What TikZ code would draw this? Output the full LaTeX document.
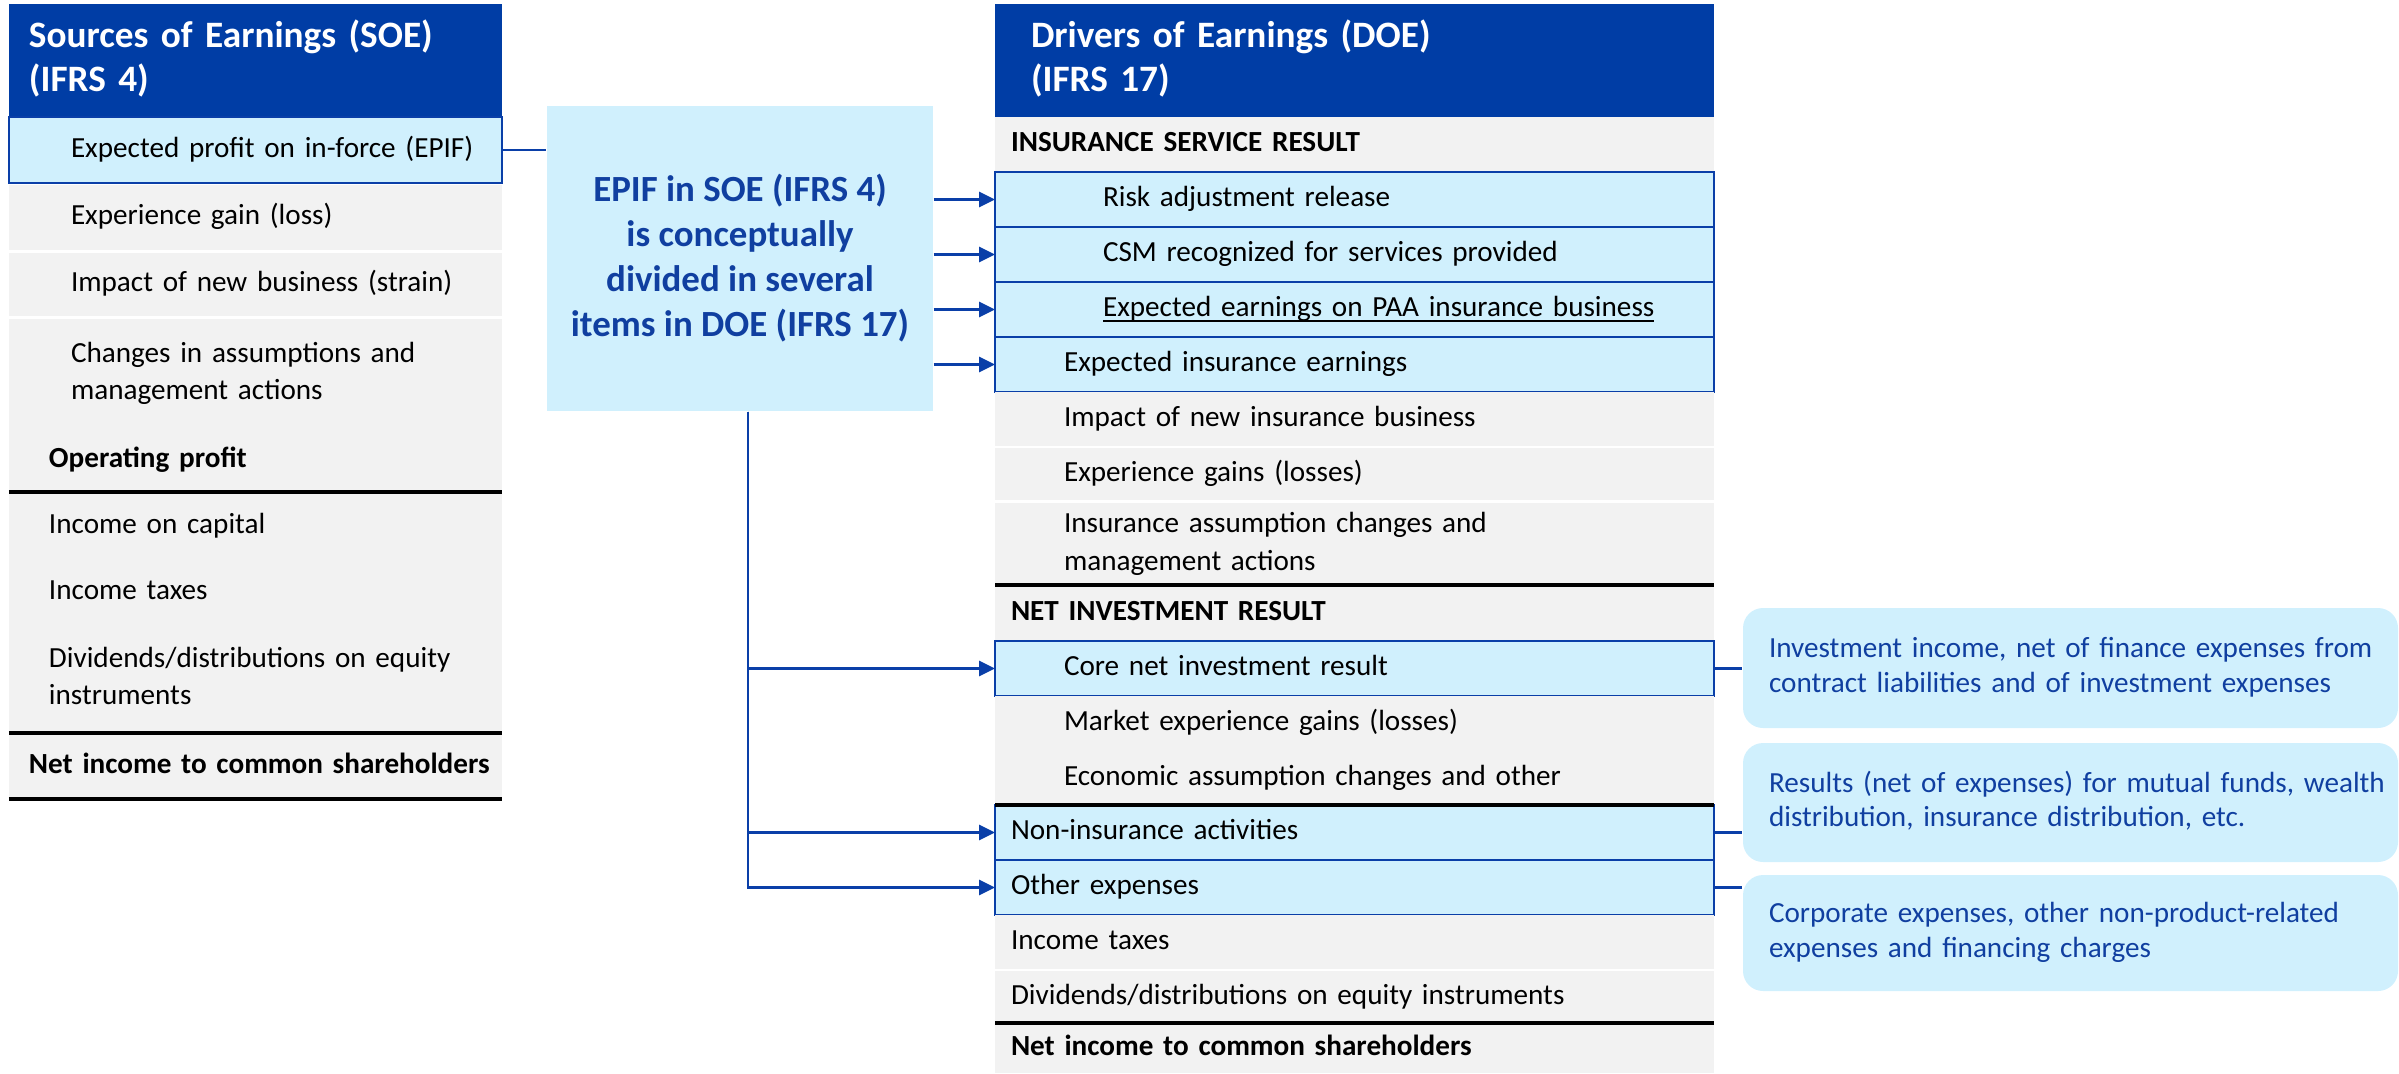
\documentclass[tikz,border=0pt]{standalone}
\usepackage{fontspec}
\setmainfont{Carlito}
\usetikzlibrary{arrows.meta, positioning, calc}

\definecolor{hdrblue}{HTML}{003DA5}
\definecolor{hilite}{HTML}{D0F0FD}
\definecolor{rowgray}{HTML}{F2F2F2}
\definecolor{linkblue}{HTML}{0A3FA8}
\definecolor{notetext}{HTML}{103FA0}

\newcommand\rowfont{\fontsize{8.3}{10.6}\selectfont}
\newcommand\hdrfont{\fontsize{10.6}{12.4}\selectfont\bfseries}
\newcommand\midfont{\fontsize{10.5}{12.8}\selectfont\bfseries}
\newcommand\notefont{\fontsize{8.3}{9.8}\selectfont}
\newcommand\undr[1]{\setbox0\hbox{#1}\rlap{\rule[-1.3pt]{\wd0}{0.45pt}}\box0}

\begin{document}
\begin{tikzpicture}[
    node distance=0pt,
    soerow/.style={rectangle, fill=rowgray, minimum width=4.93cm, text width=4.93cm, inner xsep=0pt, inner ysep=0pt, outer sep=0pt, align=left, font=\rowfont, execute at begin node={\leftskip=#1\relax\strut}, execute at end node=\strut},
    doerow/.style={soerow=#1, minimum width=7.19cm, text width=7.19cm},
    hdr/.style={fill=hdrblue, text=white, font=\hdrfont, minimum height=1.13cm},
    hot/.style={fill=hilite, draw=linkblue, line width=0.6pt},
    sect/.style={font=\rowfont\bfseries},
    rule/.style={line width=1.1pt},
    link/.style={draw=linkblue, line width=0.8pt},
    arrow/.style={link, -{Triangle[length=0.16cm, width=0.15cm]}},
    midbox/.style={rectangle, fill=hilite, text=notetext, font=\midfont, minimum width=3.86cm, minimum height=3.05cm, align=center},
    note/.style={rectangle, rounded corners=0.2cm, fill=hilite, text=notetext, font=\notefont, minimum width=6.55cm, text width=6.55cm, inner xsep=0pt, align=left, execute at begin node={\leftskip=0.26cm\relax\strut}, execute at end node=\strut}
]
\useasboundingbox (0,0) rectangle (23.99,-10.73);

% SOE (IFRS 4)
\node[soerow=0.2cm, hdr, anchor=north west] (soehead) at (0.09,-0.04) {Sources of Earnings (SOE)\\(IFRS 4)};
\node[soerow=0.62cm, hot, minimum height=0.66cm, below=of soehead] (epif) {Expected profit on in-force (EPIF)};
\node[soerow=0.62cm, minimum height=0.65cm, below=0.02cm of epif] (expgain) {Experience gain (loss)};
\node[soerow=0.62cm, minimum height=0.63cm, below=0.03cm of expgain] (newbiz) {Impact of new business (strain)};
\node[soerow=0.62cm, minimum height=1.09cm, below=0.03cm of newbiz] (chgs) {Changes in assumptions and\\management actions};
\node[soerow=0.40cm, sect, minimum height=0.64cm, below=of chgs] (opprofit) {Operating profit};
\node[soerow=0.40cm, minimum height=0.68cm, below=of opprofit] (inccap) {Income on capital};
\node[soerow=0.40cm, minimum height=0.64cm, below=of inccap] (inctax) {Income taxes};
\node[soerow=0.40cm, minimum height=1.09cm, below=of inctax] (divs) {Dividends/distributions on equity\\instruments};
\node[soerow=0.20cm, sect, minimum height=0.66cm, below=of divs] (netinc) {Net income to common shareholders};

% DOE (IFRS 17)
\node[doerow=0.36cm, hdr, anchor=north west] (doehead) at (9.95,-0.04) {Drivers of Earnings (DOE)\\(IFRS 17)};
\node[doerow=0.16cm, sect, minimum height=0.55cm, below=of doehead] (isr) {INSURANCE SERVICE RESULT};
\node[doerow=1.08cm, hot, minimum height=0.55cm, below=of isr] (risk) {Risk adjustment release};
\node[doerow=1.08cm, hot, minimum height=0.55cm, below=of risk] (csm) {CSM recognized for services provided};
\node[doerow=1.08cm, hot, minimum height=0.55cm, below=of csm] (paa) {\undr{Expected earnings on PAA insurance business}};
\node[doerow=0.69cm, hot, minimum height=0.55cm, below=of paa] (expins) {Expected insurance earnings};
\node[doerow=0.69cm, minimum height=0.54cm, below=of expins] (newins) {Impact of new insurance business};
\node[doerow=0.69cm, minimum height=0.52cm, below=0.02cm of newins] (expgains) {Experience gains (losses)};
\node[doerow=0.69cm, minimum height=0.82cm, below=0.03cm of expgains] (insassum) {Insurance assumption changes and\\management actions};
\node[doerow=0.16cm, sect, minimum height=0.56cm, below=of insassum] (nir) {NET INVESTMENT RESULT};
\node[doerow=0.69cm, hot, minimum height=0.55cm, below=of nir] (core) {Core net investment result};
\node[doerow=0.69cm, minimum height=0.55cm, below=of core] (market) {Market experience gains (losses)};
\node[doerow=0.69cm, minimum height=0.54cm, below=of market] (econ) {Economic assumption changes and other};
\node[doerow=0.16cm, hot, minimum height=0.55cm, below=of econ] (nonins) {Non-insurance activities};
\node[doerow=0.16cm, hot, minimum height=0.55cm, below=of nonins] (otherexp) {Other expenses};
\node[doerow=0.16cm, minimum height=0.54cm, below=of otherexp] (inctax2) {Income taxes};
\node[doerow=0.16cm, minimum height=0.52cm, below=0.02cm of inctax2] (divs2) {Dividends/distributions on equity instruments};
\node[doerow=0.16cm, sect, minimum height=0.50cm, below=of divs2] (netinc2) {Net income to common shareholders};

% middle and notes
\node[midbox] (mid) at (7.40,-2.585) {EPIF in SOE (IFRS 4)\\is conceptually\\divided in several\\items in DOE (IFRS 17)};
\node[note, minimum height=1.20cm] (note1) at (20.705,-6.68) {Investment income, net of finance expenses from\\contract liabilities and of investment expenses};
\node[note, minimum height=1.19cm] (note2) at (20.705,-8.025) {Results (net of expenses) for mutual funds, wealth\\distribution, insurance distribution, etc.};
\node[note, minimum height=1.16cm] (note3) at (20.705,-9.33) {Corporate expenses, other non-product-related\\expenses and financing charges};

% rules
\draw[rule] (opprofit.south west) -- (opprofit.south east);
\draw[rule] (divs.south west) -- (divs.south east);
\draw[rule] (netinc.south west) -- (netinc.south east);
\draw[rule] (insassum.south west) -- (insassum.south east);
\draw[rule] (econ.south west) -- (econ.south east);
\draw[rule] (divs2.south west) -- (divs2.south east);

% connectors
\draw[link] (epif.east) -- (epif.east -| mid.west);
\draw[arrow] (risk.west -| mid.east) -- (risk.west);
\draw[arrow] (csm.west -| mid.east) -- (csm.west);
\draw[arrow] (paa.west -| mid.east) -- (paa.west);
\draw[arrow] (expins.west -| mid.east) -- (expins.west);
\draw[arrow] ([xshift=0.08cm]mid.south) |- (core.west);
\draw[arrow] ([xshift=0.08cm]mid.south) |- (nonins.west);
\draw[arrow] ([xshift=0.08cm]mid.south) |- (otherexp.west);
\draw[link] (core.east) -- (core.east -| note1.west);
\draw[link] (nonins.east) -- (nonins.east -| note2.west);
\draw[link] (otherexp.east) -- (otherexp.east -| note3.west);

\end{tikzpicture}
\end{document}
